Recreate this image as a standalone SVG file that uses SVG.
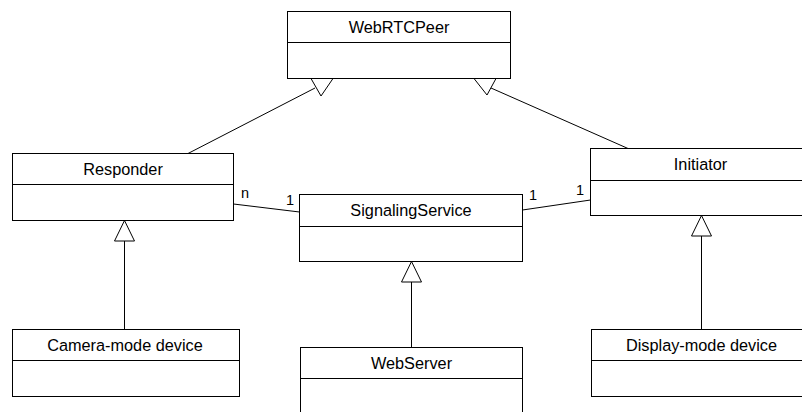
<svg xmlns="http://www.w3.org/2000/svg" width="802" height="412" viewBox="0 0 802 412">
<style>
.box{fill:#fff;stroke:#000;stroke-width:1}
.div{stroke:#000;stroke-width:1}
.t{font-family:"Liberation Sans",Arial,sans-serif;font-size:16.3px;fill:#000;text-anchor:middle}
.m{font-family:"Liberation Sans",Arial,sans-serif;font-size:14.5px;fill:#000}
.ln{fill:none;stroke:#000;stroke-width:1}
.tri{fill:#fff;stroke:#000;stroke-width:1}
</style>
<rect width="802" height="412" fill="#fff"/>
<g id="connectors">
<line class="ln" x1="188" y1="153.5" x2="315" y2="88"/>
<polygon class="tri" points="311,78.5 333,78.5 321,96"/>
<line class="ln" x1="491" y1="88" x2="628" y2="148.5"/>
<polygon class="tri" points="474,78.5 496,78.5 487,95"/>
<line class="ln" x1="233.5" y1="204" x2="299.5" y2="212"/>
<line class="ln" x1="522.5" y1="210" x2="590.5" y2="200"/>
<line class="ln" x1="124.5" y1="241" x2="124.5" y2="329.5"/>
<polygon class="tri" points="124.5,220.5 114.5,241 134.5,241"/>
<line class="ln" x1="411.5" y1="282" x2="411.5" y2="347.5"/>
<polygon class="tri" points="411.5,261.5 401.5,282 421.5,282"/>
<line class="ln" x1="701.5" y1="236" x2="701.5" y2="329.5"/>
<polygon class="tri" points="701.5,215.5 691.5,236 711.5,236"/>
<text class="m" x="241" y="198">n</text>
<text class="m" x="286" y="205">1</text>
<text class="m" x="529" y="200">1</text>
<text class="m" x="576" y="195">1</text>
</g>
<g id="WebRTCPeer">
<rect class="box" x="287.5" y="11.5" width="223" height="67"/>
<line class="div" x1="287.5" y1="42.5" x2="510.5" y2="42.5"/>
<text class="t" x="399" y="32.5">WebRTCPeer</text>
</g>
<g id="Responder">
<rect class="box" x="12.5" y="153.5" width="221" height="67"/>
<line class="div" x1="12.5" y1="184.5" x2="233.5" y2="184.5"/>
<text class="t" x="123" y="174.5">Responder</text>
</g>
<g id="SignalingService">
<rect class="box" x="299.5" y="194.5" width="223" height="67"/>
<line class="div" x1="299.5" y1="226.5" x2="522.5" y2="226.5"/>
<text class="t" x="411" y="216">SignalingService</text>
</g>
<g id="Initiator">
<rect class="box" x="590.5" y="148.5" width="220" height="67"/>
<line class="div" x1="590.5" y1="180.5" x2="810.5" y2="180.5"/>
<text class="t" x="700.5" y="170">Initiator</text>
</g>
<g id="CameraModeDevice">
<rect class="box" x="12.5" y="329.5" width="227" height="67"/>
<line class="div" x1="12.5" y1="360.5" x2="239.5" y2="360.5"/>
<text class="t" x="125" y="350.5">Camera-mode device</text>
</g>
<g id="WebServer">
<rect class="box" x="300.5" y="347.5" width="222" height="90"/>
<line class="div" x1="300.5" y1="378.5" x2="522.5" y2="378.5"/>
<text class="t" x="411.5" y="368.5">WebServer</text>
</g>
<g id="DisplayModeDevice">
<rect class="box" x="591.5" y="329.5" width="220" height="67"/>
<line class="div" x1="591.5" y1="360.5" x2="811.5" y2="360.5"/>
<text class="t" x="701.5" y="350.5">Display-mode device</text>
</g>
</svg>
